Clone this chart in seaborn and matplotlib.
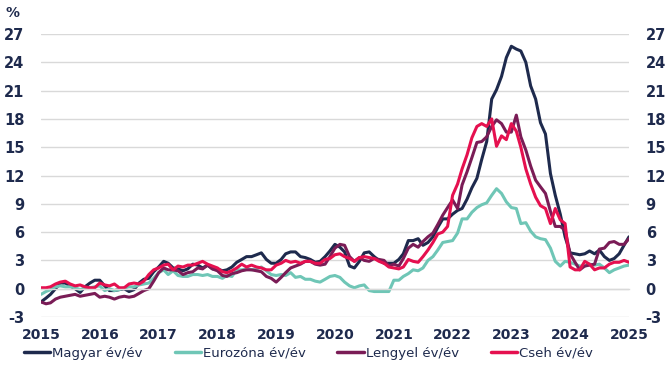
import pandas as pd
import numpy as np
import matplotlib
matplotlib.use("Agg")
import matplotlib.pyplot as plt
import matplotlib.dates as mdates
import seaborn as sns

# monthly yoy inflation, Jan 2015 - Jan 2025
magyar = [
    -1.4, -1.0, -0.6, 0.0, 0.6, 0.6, 0.3, 0.0, -0.4, 0.2, 0.6, 0.9,
    0.9, 0.3, -0.2, -0.2, -0.1, 0.0, -0.3, -0.1, 0.6, 1.0, 1.1, 1.8,
    2.3, 2.9, 2.7, 2.2, 2.1, 1.9, 2.1, 2.6, 2.5, 2.2, 2.5, 2.1,
    2.1, 1.9, 2.0, 2.3, 2.8, 3.1, 3.4, 3.4, 3.6, 3.8, 3.1, 2.7,
    2.7, 3.1, 3.7, 3.9, 3.9, 3.4, 3.3, 3.1, 2.8, 2.9, 3.4, 4.0,
    4.7, 4.4, 3.9, 2.4, 2.2, 2.9, 3.8, 3.9, 3.4, 3.0, 2.7, 2.7,
    2.7, 3.1, 3.7, 5.1, 5.1, 5.3, 4.6, 4.9, 5.5, 6.5, 7.4, 7.4,
    7.9, 8.3, 8.5, 9.5, 10.7, 11.7, 13.7, 15.6, 20.1, 21.1, 22.5, 24.5,
    25.7, 25.4, 25.2, 24.0, 21.5, 20.1, 17.6, 16.4, 12.2, 9.9, 7.9, 5.5,
    3.8, 3.7, 3.6, 3.7, 4.0, 3.7, 4.1, 3.4, 3.0, 3.2, 3.7, 4.6,
    5.5,
]
eurozona = [
    -0.6, -0.3, -0.1, 0.2, 0.3, 0.2, 0.2, 0.1, -0.1, 0.1, 0.1, 0.2,
    0.3, -0.2, 0.0, -0.2, -0.1, 0.1, 0.2, 0.2, 0.4, 0.5, 0.6, 1.1,
    1.7, 2.0, 1.5, 1.9, 1.4, 1.3, 1.3, 1.5, 1.5, 1.4, 1.5, 1.3,
    1.3, 1.1, 1.4, 1.3, 2.0, 2.0, 2.1, 2.0, 2.1, 2.3, 1.9, 1.5,
    1.4, 1.5, 1.4, 1.7, 1.2, 1.3, 1.0, 1.0, 0.8, 0.7, 1.0, 1.3,
    1.4, 1.2, 0.7, 0.3, 0.1, 0.3, 0.4, -0.2, -0.3, -0.3, -0.3, -0.3,
    0.9, 0.9, 1.3, 1.6, 2.0, 1.9, 2.2, 3.0, 3.4, 4.1, 4.9, 5.0,
    5.1, 5.9, 7.4, 7.4, 8.1, 8.6, 8.9, 9.1, 9.9, 10.6, 10.1, 9.2,
    8.6, 8.5, 6.9, 7.0, 6.1, 5.5, 5.3, 5.2, 4.3, 2.9, 2.4, 2.9,
    2.8, 2.6, 2.4, 2.4, 2.6, 2.5, 2.6, 2.2, 1.7, 2.0, 2.2, 2.4,
    2.5,
]
lengyel = [
    -1.4, -1.6, -1.5, -1.1, -0.9, -0.8, -0.7, -0.6, -0.8, -0.7, -0.6, -0.5,
    -0.9, -0.8, -0.9, -1.1, -0.9, -0.8, -0.9, -0.8, -0.5, -0.2, 0.0, 0.8,
    1.7, 2.2, 2.0, 2.0, 1.9, 1.5, 1.7, 1.8, 2.2, 2.1, 2.5, 2.1,
    1.9, 1.4, 1.3, 1.6, 1.7, 1.9, 2.0, 2.0, 1.9, 1.8, 1.3, 1.1,
    0.7, 1.2, 1.7, 2.2, 2.4, 2.6, 2.9, 2.9, 2.6, 2.5, 2.6, 3.4,
    4.3, 4.7, 4.6, 3.4, 2.9, 3.3, 3.0, 2.9, 3.2, 3.1, 3.0, 2.4,
    2.6, 2.4, 3.2, 4.3, 4.7, 4.4, 5.0, 5.5, 5.9, 6.8, 7.8, 8.6,
    9.4, 8.5, 11.0, 12.4, 13.9, 15.5, 15.6, 16.1, 17.2, 17.9, 17.5, 16.6,
    16.6, 18.4, 16.1, 14.7, 13.0, 11.5, 10.8, 10.1, 8.2, 6.6, 6.6, 6.2,
    3.7, 2.8, 2.0, 2.4, 2.5, 2.6, 4.2, 4.3, 4.9, 5.0, 4.7, 4.7,
    5.3,
]
cseh = [
    0.1, 0.1, 0.2, 0.5, 0.7, 0.8, 0.5, 0.3, 0.4, 0.2, 0.1, 0.1,
    0.6, 0.4, 0.3, 0.5, 0.1, 0.1, 0.5, 0.6, 0.5, 0.8, 1.5, 2.0,
    2.2, 2.5, 2.6, 2.0, 2.4, 2.3, 2.5, 2.5, 2.7, 2.9, 2.6, 2.4,
    2.2, 1.8, 1.7, 1.9, 2.2, 2.6, 2.3, 2.5, 2.3, 2.2, 2.0, 2.0,
    2.5, 2.7, 3.0, 2.8, 2.9, 2.7, 2.9, 2.9, 2.7, 2.7, 3.1, 3.2,
    3.6, 3.7, 3.4, 3.2, 2.9, 3.3, 3.4, 3.3, 3.2, 2.9, 2.7, 2.3,
    2.2, 2.1, 2.3, 3.1, 2.9, 2.8, 3.4, 4.1, 4.9, 5.8, 6.0, 6.6,
    9.9, 11.1, 12.7, 14.2, 16.0, 17.2, 17.5, 17.2, 18.0, 15.1, 16.2, 15.8,
    17.5, 16.7, 15.0, 12.7, 11.1, 9.7, 8.8, 8.5, 6.9, 8.5, 7.3, 6.9,
    2.3, 2.0, 2.0, 2.9, 2.6, 2.0, 2.2, 2.2, 2.6, 2.8, 2.8, 3.0,
    2.8,
]

series_names = ["Magyar év/év", "Eurozóna év/év", "Lengyel év/év", "Cseh év/év"]
colors = ["#1e2a4d", "#6fc6b6", "#7a1c56", "#e5104f"]
year_ticks = list(range(2015, 2026))
y_ticks = list(range(-3, 28, 3))

dates = pd.date_range("2015-01-01", periods=len(magyar), freq="MS")
df = pd.concat([
    pd.DataFrame({"date": dates, "value": vals, "series": name})
    for name, vals in zip(series_names, [magyar, eurozona, lengyel, cseh])
])

navy = "#1e2a4d"
grid_c = "#d9d9d9"

sns.set_theme(style="white")
plt.rcParams["font.family"] = ["DejaVu Sans"]
plt.rcParams["axes.unicode_minus"] = False

fig = plt.figure(figsize=(6.7, 3.75), dpi=100)
ax = fig.add_axes([41 / 670, 1 - 317 / 375, (629 - 41) / 670, (317 - 34) / 375])

sns.lineplot(data=df, x="date", y="value", hue="series", hue_order=series_names,
             palette=colors, linewidth=2.2, ax=ax, legend=True)

ax.set_xlim(pd.Timestamp("2015-01-01"), pd.Timestamp("2025-01-01"))
ax.set_ylim(-3, 27)
ax.set_yticks(y_ticks)
ax.set_xticks([pd.Timestamp(f"{y}-01-01") for y in year_ticks])
ax.xaxis.set_major_formatter(mdates.DateFormatter("%Y"))
ax.set_xlabel("")
ax.set_ylabel("")

ax.grid(axis="y", color=grid_c, linewidth=1)
ax.grid(axis="x", visible=False)
for side in ["top", "left", "right"]:
    ax.spines[side].set_visible(False)
ax.spines["bottom"].set_position(("data", 0))
ax.spines["bottom"].set_color(grid_c)
ax.spines["bottom"].set_linewidth(1)
ax.set_axisbelow(True)

ax.tick_params(axis="x", direction="out", length=4, width=1, color=grid_c,
               pad=24, labelsize=10, labelcolor=navy)
ax.tick_params(axis="y", length=0, labelsize=10.5, labelcolor=navy,
               labelleft=True, labelright=True, pad=12)
for lab in ax.get_xticklabels() + ax.get_yticklabels():
    lab.set_fontweight("bold")

fig.text(12 / 670, 1 - 13 / 375, "%", color=navy, fontsize=10,
         fontweight="bold", ha="center", va="center")

handles, labels = ax.get_legend_handles_labels()
ax.get_legend().remove()
leg = fig.legend(handles, labels, loc="center left", bbox_to_anchor=(0.028, 0.058),
                 ncol=4, frameon=False, fontsize=9.5, handlelength=2.0,
                 handletextpad=0.15, columnspacing=2.4, borderaxespad=0)
for t in leg.get_texts():
    t.set_color(navy)
for h in leg.get_lines():
    h.set_linewidth(2.5)

fig.savefig("out.png", dpi=100)
